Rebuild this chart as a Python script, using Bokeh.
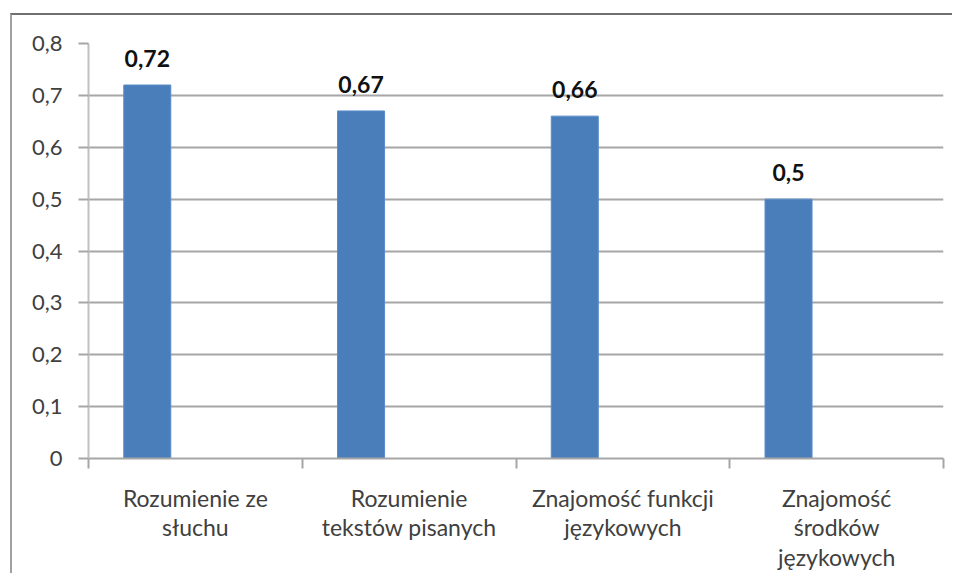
from bokeh.plotting import figure
from bokeh.models import ColumnDataSource, FixedTicker, Range1d
from bokeh.core.properties import value
from bokeh.embed import file_html
from bokeh.resources import INLINE

categories = ["Rozumienie ze\nsłuchu", "Rozumienie\ntekstów pisanych",
              "Znajomość funkcji\njęzykowych", "Znajomość\nśrodków\njęzykowych"]
values = [0.72, 0.67, 0.66, 0.5]
value_labels = ["0,72", "0,67", "0,66", "0,5"]
y_ticks = [0, 0.1, 0.2, 0.3, 0.4, 0.5, 0.6, 0.7, 0.8]
y_tick_labels = ["0", "0,1", "0,2", "0,3", "0,4", "0,5", "0,6", "0,7", "0,8"]

n = len(categories)
bar_offset = 0.275
src = ColumnDataSource(dict(
    x=[i + bar_offset for i in range(n)],
    top=values,
    label=value_labels,
))

FONT = "Lato"
GRID = "#a6a6a6"
TEXT = "#404040"

p = figure(frame_width=855, frame_height=415, min_border_left=76, min_border_top=28,
           min_border_right=9, min_border_bottom=5,
           x_range=Range1d(0, n), y_range=Range1d(0, 0.8),
           output_backend="svg", toolbar_location=None)
p.styles = {"margin-left": "10px", "margin-top": "13px",
            "border-left": "2px solid #a0a0a0", "border-top": "2px solid #707070"}
p.outline_line_color = None
p.background_fill_color = "white"
p.border_fill_color = "white"

p.vbar(x="x", top="top", bottom=0, width=0.22, source=src,
       fill_color="#4a7ebb", line_color="#5a8cc8", line_width=1)
p.text(x="x", y="top", text="label", source=src, y_offset=-18,
       text_align="center", text_baseline="bottom",
       text_font=value(FONT), text_font_style="bold", text_font_size="23px",
       text_color="#111111")

# x axis
p.xaxis.ticker = FixedTicker(ticks=[i + 0.5 for i in range(n)], minor_ticks=list(range(n + 1)))
p.xaxis.major_label_overrides = {i + 0.5: c for i, c in enumerate(categories)}
p.xaxis.major_tick_line_color = None
p.xaxis.minor_tick_line_color = GRID
p.xaxis.minor_tick_line_width = 2
p.xaxis.minor_tick_out = 10
p.xaxis.minor_tick_in = 0
p.xaxis.axis_line_color = GRID
p.xaxis.axis_line_width = 2
p.xaxis.major_label_standoff = 15
p.xaxis.major_label_text_font = FONT
p.xaxis.major_label_text_font_size = "23px"
p.xaxis.major_label_text_color = TEXT
p.xaxis.major_label_text_line_height = 1.06

# y axis
p.yaxis.ticker = FixedTicker(ticks=y_ticks)
p.yaxis.major_label_overrides = dict(zip(y_ticks, y_tick_labels))
p.yaxis.axis_line_color = "#c0c0c0"
p.yaxis.axis_line_width = 2
p.yaxis.major_tick_line_color = GRID
p.yaxis.major_tick_line_width = 2
p.yaxis.major_tick_out = 10
p.yaxis.major_tick_in = 0
p.yaxis.minor_tick_line_color = None
p.yaxis.major_label_standoff = 16
p.yaxis.major_label_text_font = FONT
p.yaxis.major_label_text_font_size = "22px"
p.yaxis.major_label_text_color = TEXT

p.xgrid.grid_line_color = None
p.ygrid.ticker = FixedTicker(ticks=y_ticks)
p.ygrid.grid_line_color = GRID
p.ygrid.grid_line_width = 2

open("out.html", "w").write(file_html(p, INLINE))
